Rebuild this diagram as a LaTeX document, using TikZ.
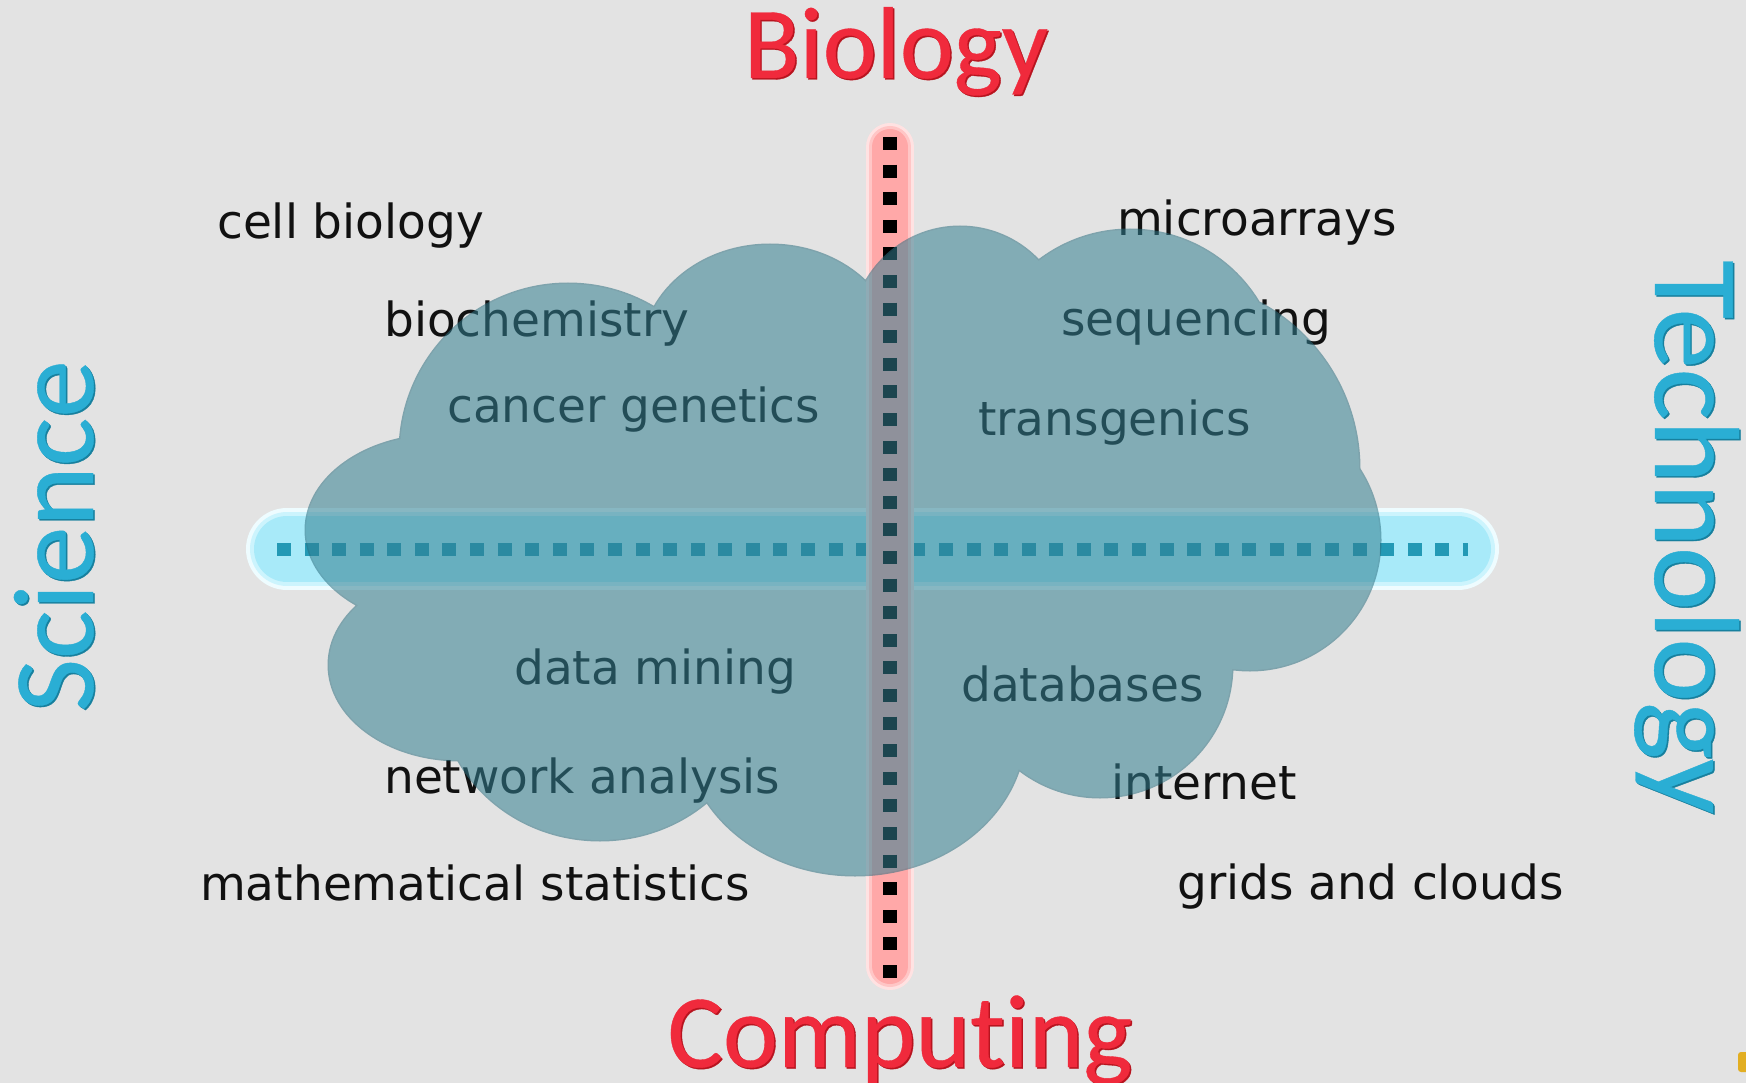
\documentclass[tikz,border=0pt]{standalone}
\usepackage{fontspec}
\newfontfamily\labelfont{DejaVu Sans}
\newfontfamily\titlefont[FakeBold=0.35, Ligatures=NoCommon]{Carlito}
\definecolor{paper}{HTML}{E3E3E3}
\definecolor{ink}{HTML}{111111}
\definecolor{headred}{HTML}{F02A3C}
\definecolor{headredshade}{HTML}{B8141F}
\definecolor{headblue}{HTML}{2AAED4}
\definecolor{headblueshade}{HTML}{17809E}
\definecolor{redglowA}{HTML}{FFE2E2}
\definecolor{redglowB}{HTML}{FFC6C6}
\definecolor{redglowC}{HTML}{FFA8A8}
\definecolor{blueglowA}{HTML}{EEFCFF}
\definecolor{blueglowB}{HTML}{CCF4FD}
\definecolor{blueglowC}{HTML}{A8EAF9}
\definecolor{bluedot}{HTML}{2399B5}
\definecolor{cloudfill}{HTML}{337F91}
\definecolor{cloudedge}{HTML}{2C6F80}
\definecolor{knob}{HTML}{E2AE22}
\begin{document}
\begin{tikzpicture}[x=1pt, y=-1pt,
  term/.style={anchor=base west, inner sep=0pt, text=ink,
    font=\labelfont\fontsize{47pt}{56pt}\selectfont},
  headword/.style={anchor=base, inner sep=0pt,
    font=\titlefont\fontsize{#1}{#1}\selectfont},
  redhead/.style={headword=#1, text=headred},
  redshade/.style={headword=#1, text=headredshade},
  bluehead/.style={headword=#1, text=headblue},
  blueshade/.style={headword=#1, text=headblueshade},
  cloudshape/.style={insert path={
    (440,530) ellipse [x radius=134, y radius=95]
    (568,452) circle [radius=168]
    (770,355) ellipse [x radius=128, y radius=110]
    (960,335) circle [radius=108]
    (1130,380) circle [radius=150]
    (1171,469) circle [radius=188]
    (1250,540) circle [radius=130]
    (1100,665) circle [radius=132]
    (855,730) ellipse [x radius=170, y radius=145]
    (600,690) ellipse [x radius=160, y radius=150]
    (460,665) ellipse [x radius=131, y radius=95]
    (840,545) ellipse [x radius=420, y radius=240]}},
]
\useasboundingbox (0,0) rectangle (1746,1083);
\fill[paper] (0,0) rectangle (1746,1083);

% end points of the two axes
\coordinate (vtop) at (890,147);
\coordinate (vbot) at (890,966);
\coordinate (hleft) at (287,549);
\coordinate (hright) at (1458,549);
\coordinate (vdot1) at (890,137);
\coordinate (vdot2) at (890,978);
\coordinate (hdot1) at (277,549);
\coordinate (hdot2) at (1468,549);

% horizontal glowing axis
\draw[blueglowA, line width=82pt, line cap=round] (hleft) -- (hright);
\draw[blueglowB, line width=74pt, line cap=round] (hleft) -- (hright);
\draw[blueglowC, line width=66pt, line cap=round] (hleft) -- (hright);
\draw[bluedot, line width=13pt, dash pattern=on 14pt off 13.58pt] (hdot1) -- (hdot2);

% vertical glowing axis
\draw[redglowA, line width=48pt, line cap=round] (vtop) -- (vbot);
\draw[redglowB, line width=42pt, line cap=round] (vtop) -- (vbot);
\draw[redglowC, line width=36pt, line cap=round] (vtop) -- (vbot);
\draw[black, line width=14pt, dash pattern=on 13pt off 14.6pt] (vdot1) -- (vdot2);

% topics
\node[term] (cellbio) at (217,239) {cell biology};
\node[term] (biochem) at (384,337) {biochemistry};
\node[term] (cancer) at (447,422) {cancer genetics};
\node[term] (micro) at (1117,236) {microarrays};
\node[term] (seq) at (1061,336) {sequencing};
\node[term] (trans) at (978,435) {transgenics};
\node[term] (mining) at (514,684) {data mining};
\node[term] (network) at (384,793) {network analysis};
\node[term] (dbs) at (961,701) {databases};
\node[term] (inet) at (1111,799) {internet};
\node[term] (grids) at (1177,899) {grids and clouds};
\node[term] (maths) at (200,900) {mathematical statistics};

% axis headings, each over a darker copy for a bevelled edge
\node[redshade=102pt] (biologyshade) at (897.5,79.5) {Biology};
\node[redhead=102pt] (biology) at (896,78) {Biology};
\node[redshade=104pt] (computingshade) at (901.5,1068.5) {Computing};
\node[redhead=104pt] (computing) at (900,1067) {Computing};
\node[blueshade=115pt, rotate=90] (scienceshade) at (94.5,537.5) {Science};
\node[bluehead=115pt, rotate=90] (science) at (93,536) {Science};
\node[blueshade=121pt, rotate=-90] (technologyshade) at (1656.5,538.5) {Technology};
\node[bluehead=121pt, rotate=-90] (technology) at (1655,537) {Technology};

% translucent cloud over the middle
\begin{scope}[transparency group, opacity=0.55]
  \draw[cloudedge, line width=3pt, cloudshape];
  \fill[cloudfill, cloudshape];
\end{scope}

% small marker in the corner
\fill[knob, rounded corners=3pt] (1738,1052) rectangle (1752,1072);
\end{tikzpicture}
\end{document}
